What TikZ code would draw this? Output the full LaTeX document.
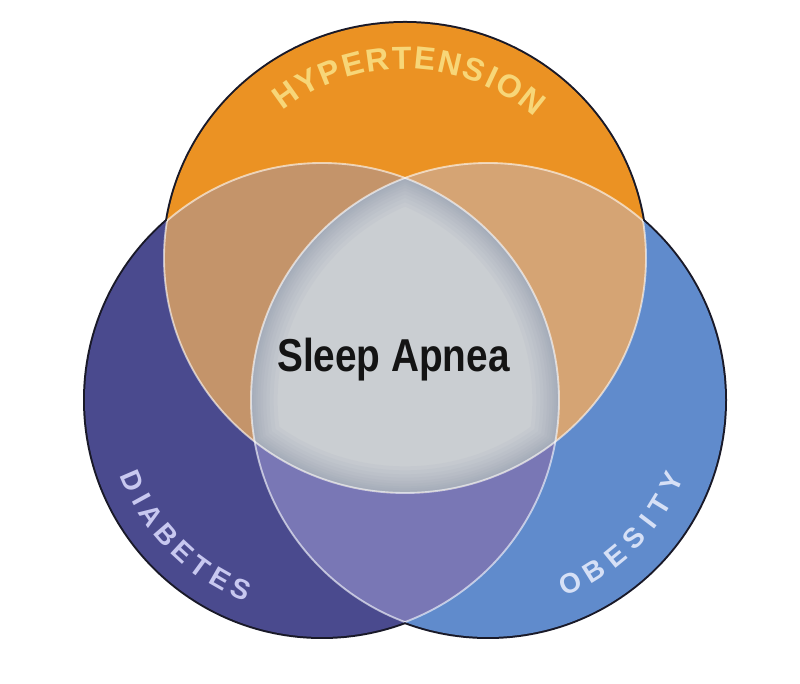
\documentclass[tikz,border=0pt]{standalone}
\usepackage{fontspec}
\setmainfont{Liberation Sans}
\newfontfamily\condfont[FakeStretch=0.84]{Liberation Sans}
\definecolor{cOrange}{RGB}{235,146,35}
\definecolor{cLeft}{RGB}{74,74,142}
\definecolor{cRight}{RGB}{96,139,204}
\definecolor{cLR}{RGB}{121,119,181}
\definecolor{cTL}{RGB}{196,148,106}
\definecolor{cTR}{RGB}{213,164,116}
\definecolor{cGray}{RGB}{202,206,210}
\definecolor{cShadow}{RGB}{120,132,158}
\definecolor{cOutline}{RGB}{25,25,40}
\definecolor{cHyp}{RGB}{247,214,120}
\definecolor{cDia}{RGB}{200,200,240}
\definecolor{cObe}{RGB}{214,224,246}
\tikzset{
  outline/.style={draw=cOutline, line width=3pt},
  innerline/.style={draw=white, draw opacity=0.6, line width=1.4pt},
  hyptext/.style={text=cHyp, font=\fontsize{24}{28}\selectfont\bfseries, inner sep=0pt},
  sidetextD/.style={text=cDia, font=\fontsize{21}{25}\selectfont\bfseries, inner sep=0pt},
  sidetextO/.style={text=cObe, font=\fontsize{21}{25}\selectfont\bfseries, inner sep=0pt},
  centertext/.style={text=black!92, font=\condfont\fontsize{34.6}{40}\selectfont\bfseries, inner sep=0pt}
}
\def\Tpath{(405,426) ellipse [x radius=241, y radius=235]}
\def\Lpath{(322,284) circle [radius=237]}
\def\Rpath{(488,284) circle [radius=237]}
\begin{document}
\begin{tikzpicture}[x=0.75pt,y=0.75pt]
\useasboundingbox (0,0) rectangle (800,684);
\fill[white] (0,0) rectangle (800,684);
\coordinate (T) at (405,426);
\coordinate (L) at (322,284);
\coordinate (R) at (488,284);
% dark outer outlines (inner halves covered by the fills)
\draw[outline] \Lpath;
\draw[outline] \Rpath;
\draw[outline] \Tpath;
% base fills
\fill[cLeft] \Lpath;
\fill[cRight] \Rpath;
\fill[cOrange] \Tpath;
% overlaps
\begin{scope}
  \clip \Lpath;
  \fill[cLR] \Rpath;
\end{scope}
\begin{scope}
  \clip \Tpath;
  \fill[cTL] \Lpath;
\end{scope}
\begin{scope}
  \clip \Tpath;
  \fill[cTR] \Rpath;
\end{scope}
\begin{scope}
  \clip \Tpath;
  \clip \Lpath;
  \clip \Rpath;
  \fill[cGray] (0,0) rectangle (800,684);
  \foreach \w in {40,34,28,23,18,14,10,7,4}
    \draw[cShadow, line width=\w pt, opacity=0.055] \Tpath \Lpath \Rpath;
\end{scope}
% light inner boundaries
\begin{scope}
  \clip \Lpath \Rpath;
  \draw[innerline] \Tpath;
\end{scope}
\begin{scope}
  \clip \Tpath \Rpath;
  \draw[innerline] \Lpath;
\end{scope}
\begin{scope}
  \clip \Tpath \Lpath;
  \draw[innerline] \Rpath;
\end{scope}
% labels
\node[centertext, anchor=base] (sa) at (393.5,312) {Sleep Apnea};
\begin{scope}[shift={(405,426)}]
  \foreach \ch/\ang [count=\i] in {H/125.5, Y/118.45, P/111.61, E/104.77, R/97.72, T/90.89, E/84.27, N/77.22, S/70.17, I/64.85, O/59.09, N/51.61}
    \node[hyptext, rotate=\ang-90] (hy\i) at (\ang:205 and 200) {\ch};
\end{scope}
\begin{scope}[shift={(322,284)}]
  \foreach \ch/\ang [count=\i] in {D/203.2, I/208.74, A/214.09, B/220.73, E/227.38, T/233.84, E/240.30, S/246.95}
    \node[sidetextD, rotate=\ang+90] (di\i) at (\ang:206) {\ch};
\end{scope}
\begin{scope}[shift={(488,284)}]
  \foreach \ch/\ang [count=\i] in {O/-65.9, B/-58.13, E/-50.75, S/-43.36, I/-37.30, T/-31.43, Y/-24.23}
    \node[sidetextO, rotate=\ang+90] (ob\i) at (\ang:201) {\ch};
\end{scope}
\end{tikzpicture}
\end{document}
